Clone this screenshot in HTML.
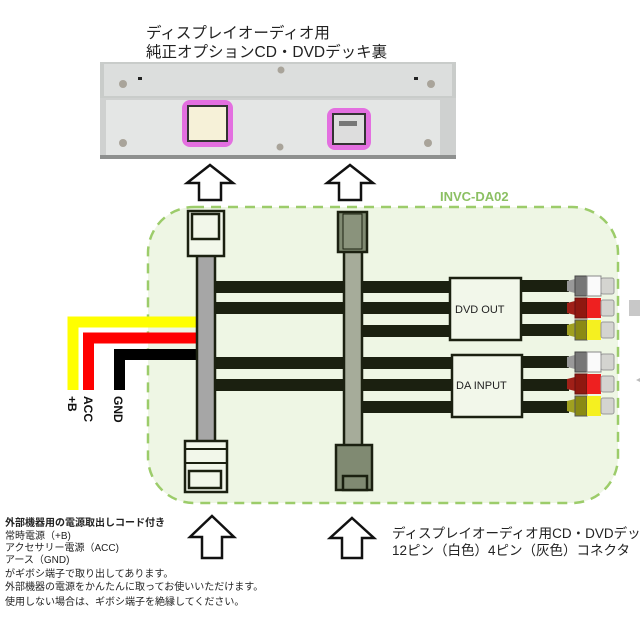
<!DOCTYPE html>
<html><head><meta charset="utf-8"><style>
html,body{margin:0;padding:0;background:#fff;}
svg{display:block;}
text{font-family:"Liberation Sans","Noto Sans CJK JP",sans-serif;}
</style></head><body>
<svg width="640" height="640" viewBox="0 0 640 640" xmlns="http://www.w3.org/2000/svg">
<text x="146" y="38" font-size="15.5" fill="#222">ディスプレイオーディオ用</text>
<text x="146" y="57" font-size="15.5" fill="#222">純正オプションCD・DVDデッキ裏</text>
<rect x="100" y="62" width="356" height="37" fill="#c9ccca"/>
<rect x="104" y="64" width="348" height="32" fill="#dcdedd"/>
<rect x="100" y="98" width="356" height="61" fill="#cfd1d0"/>
<rect x="106" y="100" width="334" height="57" fill="#e4e6e5"/>
<rect x="100" y="155" width="356" height="4" fill="#8e908f"/>
<circle cx="123" cy="84" r="4" fill="#a9a49a"/><circle cx="281" cy="70" r="3.5" fill="#a9a49a"/>
<circle cx="431" cy="84" r="4" fill="#a9a49a"/><circle cx="123" cy="143" r="4" fill="#a9a49a"/>
<circle cx="280" cy="147" r="3.5" fill="#a9a49a"/><circle cx="428" cy="143" r="4" fill="#a9a49a"/>
<rect x="138" y="77" width="4" height="3" fill="#222"/><rect x="414" y="77" width="4" height="3" fill="#222"/>
<rect x="182" y="100" width="51" height="47" rx="8" fill="#e36fe0"/>
<rect x="188" y="106" width="39" height="35" fill="#f6f1d8" stroke="#333" stroke-width="2"/>
<rect x="327" y="108" width="44" height="42" rx="8" fill="#e36fe0"/>
<rect x="333" y="114" width="32" height="30" fill="#ddd" stroke="#333" stroke-width="2"/>
<rect x="339" y="121" width="18" height="5" fill="#777"/>
<polygon points="210,165 233,183 221,183 221,200 199,200 199,183 187,183" fill="#fff" stroke="#111" stroke-width="2.5"/>
<polygon points="350,165 373,183 361,183 361,200 339,200 339,183 327,183" fill="#fff" stroke="#111" stroke-width="2.5"/>
<rect x="148" y="207" width="470" height="296" rx="46" fill="#eef6e4" stroke="#9ccc6a" stroke-width="2.5" stroke-dasharray="10,7"/>
<text x="440" y="201" font-size="13" font-weight="bold" fill="#8cc063">INVC-DA02</text>
<path d="M73,390 V322 H200" fill="none" stroke="#ffff00" stroke-width="11"/>
<path d="M88.5,390 V338 H200" fill="none" stroke="#ff0000" stroke-width="11"/>
<path d="M119.5,390 V354.5 H200" fill="none" stroke="#000" stroke-width="11"/>
<g font-size="12" font-weight="bold" fill="#111">
<text transform="translate(68,396) rotate(90)">+B</text>
<text transform="translate(84,396) rotate(90)">ACC</text>
<text transform="translate(114,396) rotate(90)">GND</text>
</g>
<g fill="#1b2010">
<rect x="214" y="281" width="130" height="12"/><rect x="214" y="302" width="130" height="12"/>
<rect x="214" y="357" width="130" height="12"/><rect x="214" y="379" width="130" height="12"/>
<rect x="361" y="281" width="90" height="12"/><rect x="361" y="302" width="90" height="12"/><rect x="361" y="325" width="90" height="12"/>
<rect x="361" y="357" width="92" height="12"/><rect x="361" y="379" width="92" height="12"/><rect x="361" y="401" width="92" height="12"/>
<rect x="521" y="280" width="48" height="12"/><rect x="521" y="302" width="48" height="12"/><rect x="521" y="324" width="48" height="12"/>
<rect x="521" y="356" width="48" height="12"/><rect x="521" y="379" width="48" height="12"/><rect x="521" y="401" width="48" height="12"/>
</g>
<rect x="450" y="278" width="71" height="62" fill="#f2f7ea" stroke="#1b2010" stroke-width="2.5"/>
<text x="455" y="313" font-size="11" fill="#222">DVD OUT</text>
<rect x="452" y="355" width="70" height="62" fill="#f2f7ea" stroke="#1b2010" stroke-width="2.5"/>
<text x="456" y="389" font-size="11" fill="#222">DA INPUT</text>
<g>
<g transform="translate(0,286)"><polygon points="567,-5 575,-7 575,7 567,5" fill="#999"/><rect x="575" y="-10" width="12" height="20" fill="#777" stroke="#444"/><rect x="587" y="-10" width="14" height="20" fill="#fafafa" stroke="#888"/><rect x="601" y="-8" width="13" height="16" rx="2" fill="#d4d4d0" stroke="#999"/></g>
<g transform="translate(0,308)"><polygon points="567,-5 575,-7 575,7 567,5" fill="#a02018"/><rect x="575" y="-10" width="12" height="20" fill="#901810" stroke="#611"/><rect x="587" y="-10" width="14" height="20" fill="#ee2020"/><rect x="601" y="-8" width="13" height="16" rx="2" fill="#d4d4d0" stroke="#999"/></g>
<g transform="translate(0,330)"><polygon points="567,-5 575,-7 575,7 567,5" fill="#a0a020"/><rect x="575" y="-10" width="12" height="20" fill="#8a8a14" stroke="#555"/><rect x="587" y="-10" width="14" height="20" fill="#f5f020"/><rect x="601" y="-8" width="13" height="16" rx="2" fill="#d4d4d0" stroke="#999"/></g>
<g transform="translate(0,362)"><polygon points="567,-5 575,-7 575,7 567,5" fill="#999"/><rect x="575" y="-10" width="12" height="20" fill="#777" stroke="#444"/><rect x="587" y="-10" width="14" height="20" fill="#fafafa" stroke="#888"/><rect x="601" y="-8" width="13" height="16" rx="2" fill="#d4d4d0" stroke="#999"/></g>
<g transform="translate(0,384)"><polygon points="567,-5 575,-7 575,7 567,5" fill="#a02018"/><rect x="575" y="-10" width="12" height="20" fill="#901810" stroke="#611"/><rect x="587" y="-10" width="14" height="20" fill="#ee2020"/><rect x="601" y="-8" width="13" height="16" rx="2" fill="#d4d4d0" stroke="#999"/></g>
<g transform="translate(0,406)"><polygon points="567,-5 575,-7 575,7 567,5" fill="#a0a020"/><rect x="575" y="-10" width="12" height="20" fill="#8a8a14" stroke="#555"/><rect x="587" y="-10" width="14" height="20" fill="#f5f020"/><rect x="601" y="-8" width="13" height="16" rx="2" fill="#d4d4d0" stroke="#999"/></g>
</g>
<rect x="629" y="300" width="11" height="16" fill="#c8c8c8"/>
<polygon points="636,380 640,378 640,382" fill="#bbb"/>
<rect x="197" y="255" width="18" height="187" fill="#a6a6a6" stroke="#1b2010" stroke-width="2.5"/>
<rect x="188" y="211" width="36" height="45" fill="#f2f7ea" stroke="#1b2010" stroke-width="2.5"/>
<rect x="192" y="214" width="27" height="25" fill="#f2f7ea" stroke="#1b2010" stroke-width="2.5"/>
<rect x="185" y="441" width="42" height="51" fill="#f2f7ea" stroke="#1b2010" stroke-width="2.5"/>
<line x1="185" y1="449" x2="227" y2="449" stroke="#1b2010" stroke-width="2"/>
<line x1="185" y1="463" x2="227" y2="463" stroke="#1b2010" stroke-width="2"/>
<rect x="189" y="471" width="32" height="17" fill="#f2f7ea" stroke="#1b2010" stroke-width="2.5"/>
<rect x="344" y="250" width="18" height="196" fill="#a6ac9a" stroke="#1b2010" stroke-width="2.5"/>
<rect x="338" y="212" width="29" height="40" fill="#808a72" stroke="#1b2010" stroke-width="2.5"/>
<rect x="343" y="214" width="19" height="35" fill="#8a937c" stroke="#1b2010" stroke-width="1"/>
<rect x="336" y="445" width="36" height="45" fill="#808a72" stroke="#1b2010" stroke-width="2.5"/>
<rect x="343" y="476" width="24" height="14" fill="#808a72" stroke="#1b2010" stroke-width="2.5"/>
<polygon points="212,516 234,537 222,537 222,558 202,558 202,537 190,537" fill="#fff" stroke="#111" stroke-width="2.5"/>
<polygon points="352,518 374,538 362,538 362,558 342,558 342,538 330,538" fill="#fff" stroke="#111" stroke-width="2.5"/>
<g font-size="10" fill="#222">
<text x="5" y="526" font-weight="bold">外部機器用の電源取出しコード付き</text>
<text x="5" y="539">常時電源（+B)</text>
<text x="5" y="551">アクセサリー電源（ACC)</text>
<text x="5" y="563">アース（GND)</text>
<text x="5" y="577">がギボシ端子で取り出してあります。</text>
<text x="5" y="590">外部機器の電源をかんたんに取ってお使いいただけます。</text>
<text x="5" y="605">使用しない場合は、ギボシ端子を絶縁してください。</text>
</g>
<g font-size="13.5" fill="#222">
<text x="392" y="538">ディスプレイオーディオ用CD・DVDデッキ</text>
<text x="392" y="555">12ピン（白色）4ピン（灰色）コネクタ</text>
</g>
</svg>
</body></html>
